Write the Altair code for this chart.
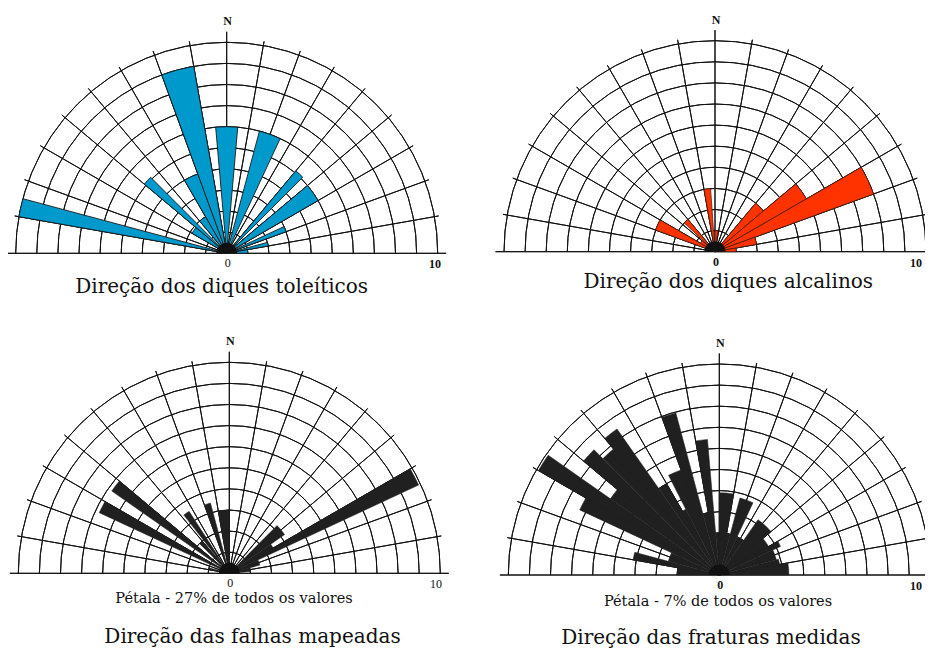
import math
import altair as alt
import pandas as pd

# ---------------- data (azimuth start / end in degrees, petal length on the 0-10 scale) ----------------
# Direção dos diques toleíticos
TOL_START = [280, 300, 310, 320, 330, 340, 355, 15, 40, 50, 65, 75, 80]
TOL_END = [285, 310, 315, 330, 340, 350, 365, 25, 45, 60, 70, 80, 90]
TOL_VALUE = [10.0, 1.9, 5.1, 2.0, 4.0, 9.0, 6.0, 6.0, 5.1, 5.0, 3.0, 2.0, 1.0]

# Direção dos diques alcalinos
ALC_START = [290, 300, 313, 350, 0, 40, 50, 60, 70, 80]
ALC_END = [300, 310, 320, 356, 8, 50, 60, 70, 80, 90]
ALC_VALUE = [3.0, 0.8, 2.0, 3.0, 1.0, 3.0, 5.0, 8.0, 2.0, 1.0]

# Direção das falhas mapeadas
FAL_START = [280, 295, 305, 315, 322, 340, 350, 45, 55, 60, 65, 75]
FAL_END = [285, 300, 310, 320, 327, 345, 360, 55, 60, 65, 75, 85]
FAL_VALUE = [1.0, 6.8, 6.8, 2.0, 3.5, 3.45, 3.0, 3.2, 2.4, 9.9, 1.5, 1.0]

# Direção das fraturas medidas
FRA_START = [270, 280, 285, 295, 300, 305, 310, 315, 320, 325, 330, 333, 340, 345, 350, 355,
             0, 10, 15, 25, 35, 50, 60, 65, 75, 80]
FRA_END = [280, 285, 295, 300, 305, 310, 315, 320, 325, 330, 333, 340, 345, 350, 355, 360,
           10, 15, 25, 35, 50, 60, 65, 75, 80, 90]
FRA_VALUE = [2.0, 4.15, 2.5, 7.3, 9.9, 6.3, 8.4, 7.8, 8.45, 5.0, 3.5, 5.3, 7.95, 3.0, 6.45, 2.0,
             3.9, 2.0, 3.78, 2.0, 3.2, 2.7, 3.2, 2.8, 2.9, 3.3]

RINGS = [1, 2, 3, 4, 5, 6, 7, 8, 9, 10]
SPOKES = list(range(-90, 91, 10))

TITLES = ["Direção dos diques toleíticos", "Direção dos diques alcalinos",
          "Direção das falhas mapeadas", "Direção das fraturas medidas"]
SUBTITLES = ["", "", "Pétala - 27% de todos os valores", "Pétala - 7% de todos os valores"]
AXIS_LABELS = ["N", "0", "10"]

# ---------------- scales / styles ----------------
THETA_SCALE = alt.Scale(domain=[0, 360], range=[0, 2 * math.pi], nice=False)
RADIUS_SCALE = alt.Scale(type="linear", domain=[0, 10], range=[0, 211], nice=False)
GRID = "#111111"
SERIF = "Liberation Serif"
WIDE_SERIF = "DejaVu Serif"


def panel(cx, cy, starts, ends, values, fill, stroke, sw):
    layers = []
    ring_df = pd.DataFrame({"r": RINGS, "t0": -90, "t1": 90})
    layers.append(
        alt.Chart(ring_df).mark_arc(filled=False, color=GRID, strokeWidth=1).encode(
            x=alt.value(cx), y=alt.value(cy),
            theta=alt.Theta("t0:Q", scale=THETA_SCALE, stack=False),
            theta2="t1:Q",
            radius=alt.Radius("r:Q", scale=RADIUS_SCALE),
            radius2="r:Q",
        )
    )
    lens = [10.4 if a in (-90, 90) else (10.5 if a == 0 else 10.2) for a in SPOKES]
    sp_df = pd.DataFrame({"a": SPOKES, "len": lens})
    layers.append(
        alt.Chart(sp_df).mark_arc(filled=False, color=GRID, strokeWidth=1).encode(
            x=alt.value(cx), y=alt.value(cy),
            theta=alt.Theta("a:Q", scale=THETA_SCALE, stack=False),
            theta2="a:Q",
            radius=alt.Radius("len:Q", scale=RADIUS_SCALE),
            radius2=alt.value(0),
        )
    )
    pet_df = pd.DataFrame({"a0": starts, "a1": ends, "v": values})
    layers.append(
        alt.Chart(pet_df).mark_arc(fill=fill, stroke=stroke, strokeWidth=sw).encode(
            x=alt.value(cx), y=alt.value(cy),
            theta=alt.Theta("a0:Q", scale=THETA_SCALE, stack=False),
            theta2="a1:Q",
            radius=alt.Radius("v:Q", scale=RADIUS_SCALE),
            radius2=alt.value(0),
        )
    )
    blob_df = pd.DataFrame({"t0": [-90], "t1": [90], "r": [0.5]})
    layers.append(
        alt.Chart(blob_df).mark_arc(fill="#111111").encode(
            x=alt.value(cx), y=alt.value(cy),
            theta=alt.Theta("t0:Q", scale=THETA_SCALE, stack=False),
            theta2="t1:Q",
            radius=alt.Radius("r:Q", scale=RADIUS_SCALE),
            radius2=alt.value(0),
        )
    )
    return layers


def label(text, x, y, size, weight="normal", font=SERIF):
    return alt.Chart(pd.DataFrame({"t": [text]})).mark_text(
        font=font, fontSize=size, fontWeight=weight, color="#111111",
        align="center", baseline="middle",
    ).encode(x=alt.value(x), y=alt.value(y), text="t:N")


CENTERS = [(218.7, 245.3), (707.0, 243.7), (221.3, 565.3), (711.3, 567.0)]
DATASETS = [(TOL_START, TOL_END, TOL_VALUE), (ALC_START, ALC_END, ALC_VALUE),
            (FAL_START, FAL_END, FAL_VALUE), (FRA_START, FRA_END, FRA_VALUE)]
FILLS = [("#0099CC", "#1a1a1a", 0.9), ("#FF3300", "#3a1a10", 0.7),
         ("#202020", "#202020", 0.5), ("#202020", "#202020", 0.5)]
TITLE_POS = [(213.7, 279), (720.3, 274), (244.5, 629), (703, 630)]
SUB_POS = [None, None, (226, 591), (710, 594)]
TEN_X = [427, 908, 428, 908]

layers = []
for i in range(4):
    cx, cy = CENTERS[i]
    s, e, v = DATASETS[i]
    f, st, sw = FILLS[i]
    layers += panel(cx, cy, s, e, v, f, st, sw)
    layers.append(label(AXIS_LABELS[0], cx + 1, cy - 232, 12, "bold"))
    layers.append(label(AXIS_LABELS[1], cx + 1, cy + 10, 12, "bold" if i in (1, 3) else "normal"))
    layers.append(label(AXIS_LABELS[2], TEN_X[i], cy + 11, 12, "normal" if i == 2 else "bold"))
    tx, ty = TITLE_POS[i]
    layers.append(label(TITLES[i], tx, ty, 20, font=WIDE_SERIF))
    if SUB_POS[i] is not None:
        sx, sy = SUB_POS[i]
        layers.append(label(SUBTITLES[i], sx, sy, 14.5, font=WIDE_SERIF))

chart = alt.layer(*layers).properties(
    width=917, height=643, padding=0,
    autosize=alt.AutoSizeParams(type="none"),
).configure_view(stroke=None)

chart.save("out.html", embed_options={"renderer": "svg", "actions": False})
